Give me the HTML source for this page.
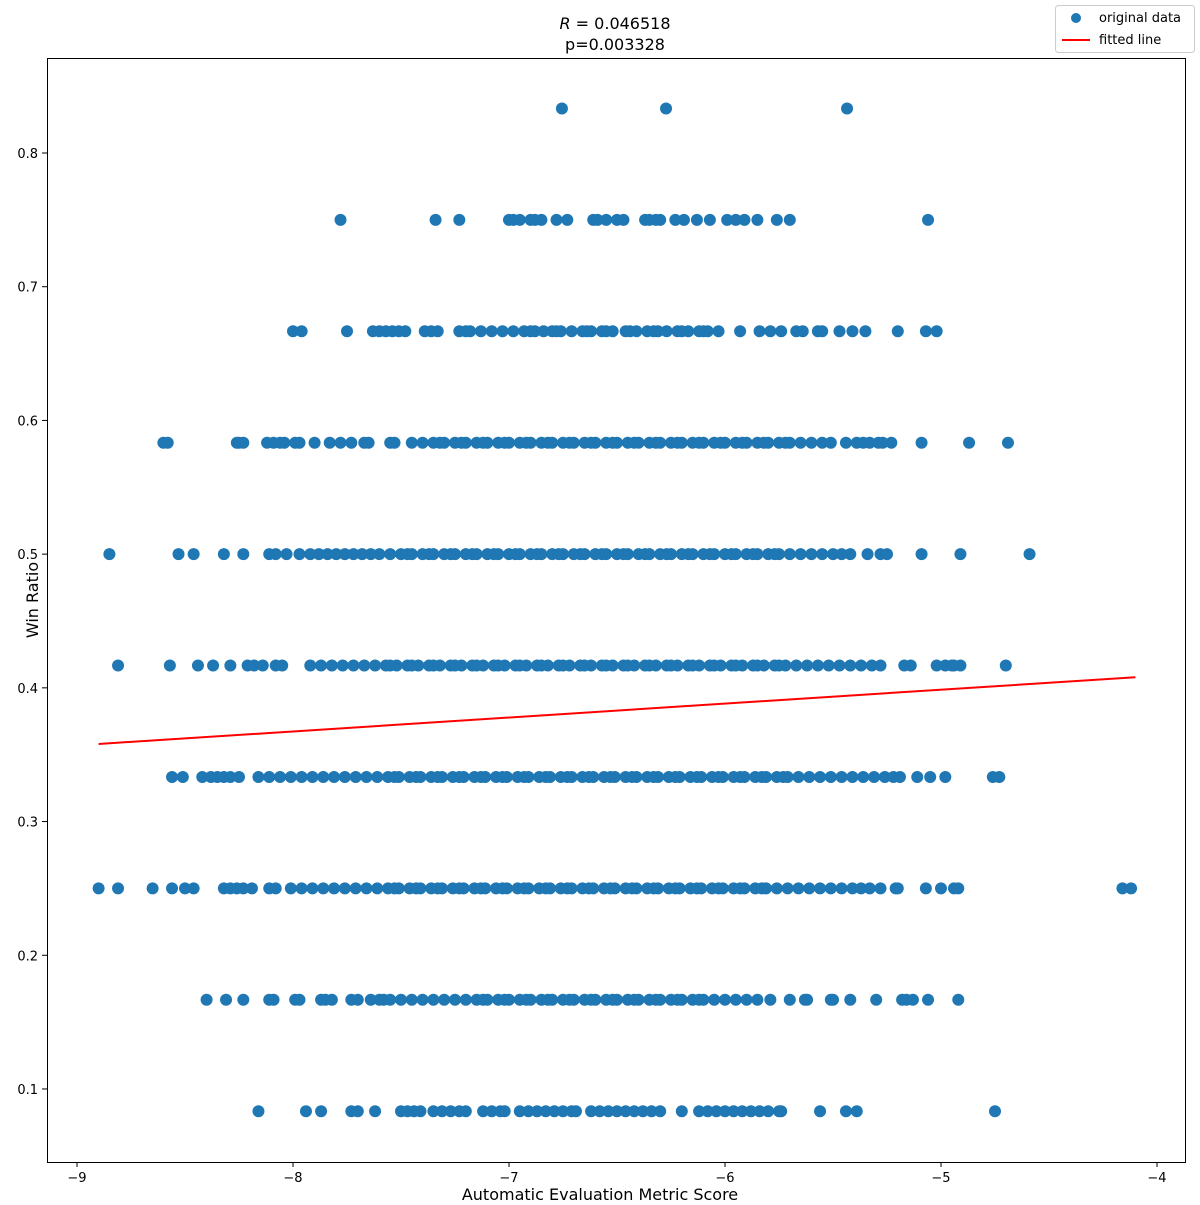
<!DOCTYPE html>
<html><head><meta charset="utf-8"><style>
body{margin:0;background:#fff}
svg{font-family:"DejaVu Sans","Liberation Sans",sans-serif}
</style></head><body>
<svg id="chart" width="1200" height="1200" xmlns="http://www.w3.org/2000/svg">
<rect width="1200" height="1200" fill="#fff"/>
<g id="points"></g>
<g id="axes"></g>
</svg>
<script>
const rowValues=[0.8333,0.75,0.6667,0.5833,0.5,0.4167,0.3333,0.25,0.1667,0.0833];
const rowX0833hi=[-6.755,-6.273,-5.435];
const rowX75=[-7.78,-7.34,-7.23,-7.0,-6.98,-6.95,-6.90,-6.88,-6.85,-6.78,-6.73,-6.61,-6.59,-6.55,-6.50,-6.47,-6.37,-6.35,-6.32,-6.30,-6.23,-6.19,-6.13,-6.07,-5.99,-5.95,-5.91,-5.85,-5.76,-5.70,-5.06];
const rowX6667=[-8.0,-7.96,-7.75,-7.63,-7.60,-7.57,-7.54,-7.51,-7.48,-7.39,-7.36,-7.33,-7.23,-7.20,-7.18,-7.13,-7.08,-7.03,-6.98,-6.93,-6.88,-6.84,-6.80,-6.76,-6.71,-6.66,-6.62,-6.57,-6.52,-6.46,-6.41,-6.36,-6.31,-6.27,-6.22,-6.17,-6.12,-6.08,-6.03,-5.93,-5.84,-5.79,-5.74,-5.67,-5.64,-5.57,-5.55,-5.47,-5.41,-5.35,-5.20,-5.07,-5.02,-6.90,-6.78,-6.64,-6.55,-6.44,-6.33,-6.20,-6.10];
const rowX5833=[-8.60,-8.58,-8.26,-8.25,-8.23,-8.12,-8.09,-8.06,-8.04,-7.99,-7.97,-7.90,-7.83,-7.78,-7.73,-7.67,-7.65,-7.55,-7.53,-7.45,-7.40,-7.35,-7.30,-7.25,-7.20,-7.15,-7.10,-7.05,-7.00,-6.95,-6.90,-6.85,-6.80,-6.75,-6.70,-6.65,-6.60,-6.55,-6.50,-6.45,-6.40,-6.35,-6.30,-6.25,-6.20,-6.15,-6.10,-6.05,-6.00,-5.95,-5.90,-5.85,-5.80,-5.75,-5.70,-5.65,-5.60,-5.55,-5.51,-5.44,-5.39,-5.36,-5.33,-5.29,-5.27,-5.23,-5.09,-4.87,-4.69,
-7.32,-7.22,-7.12,-7.02,-6.92,-6.82,-6.72,-6.62,-6.52,-6.42,-6.32,-6.22,-6.12,-6.02,-5.92,-5.82,-5.72];
const rowX5=[-8.85,-8.53,-8.46,-8.32,-8.23,-8.11,-8.08,-8.03,-7.97,-7.92,-7.88,-7.84,-7.80,-7.76,-7.72,-7.68,-7.64,-7.60,-7.55,-7.50,-7.45,-7.40,-7.35,-7.30,-7.25,-7.20,-7.15,-7.10,-7.05,-7.00,-6.95,-6.90,-6.85,-6.80,-6.75,-6.70,-6.65,-6.60,-6.55,-6.50,-6.45,-6.40,-6.35,-6.30,-6.25,-6.20,-6.15,-6.10,-6.05,-6.00,-5.95,-5.90,-5.85,-5.80,-5.75,-5.70,-5.65,-5.60,-5.55,-5.50,-5.46,-5.42,-5.34,-5.28,-5.25,-5.09,-4.91,-4.59,
-7.47,-7.37,-7.27,-7.17,-7.07,-6.97,-6.87,-6.77,-6.67,-6.57,-6.47,-6.37,-6.27,-6.17,-6.07,-5.97,-5.87,-5.77];
const rowX4167=[-8.81,-8.57,-8.44,-8.37,-8.29,-8.21,-8.18,-8.14,-8.08,-8.05,-7.92,-7.87,-7.82,-7.77,-7.72,-7.67,-7.62,-7.57,-7.52,-7.47,-7.42,-7.37,-7.32,-7.27,-7.22,-7.17,-7.12,-7.07,-7.02,-6.97,-6.92,-6.87,-6.82,-6.77,-6.72,-6.67,-6.62,-6.57,-6.52,-6.47,-6.42,-6.37,-6.32,-6.27,-6.22,-6.17,-6.12,-6.07,-6.02,-5.97,-5.92,-5.87,-5.82,-5.77,-5.72,-5.67,-5.62,-5.57,-5.52,-5.47,-5.42,-5.37,-5.32,-5.28,-5.17,-5.14,-5.02,-4.98,-4.95,-4.94,-4.91,-4.70,
-7.55,-7.45,-7.35,-7.25,-7.15,-7.05,-6.95,-6.85,-6.75,-6.65,-6.55,-6.45,-6.35,-6.25,-6.15,-6.05,-5.95,-5.85,-5.75];
const rowX3333=[-8.56,-8.51,-8.42,-8.38,-8.35,-8.32,-8.29,-8.25,-8.16,-8.11,-8.06,-8.01,-7.96,-7.91,-7.86,-7.81,-7.76,-7.71,-7.66,-7.61,-7.56,-7.51,-7.46,-7.41,-7.36,-7.31,-7.26,-7.21,-7.16,-7.11,-7.06,-7.01,-6.96,-6.91,-6.86,-6.81,-6.76,-6.71,-6.66,-6.61,-6.56,-6.51,-6.46,-6.41,-6.36,-6.31,-6.26,-6.21,-6.16,-6.11,-6.06,-6.01,-5.96,-5.91,-5.86,-5.81,-5.76,-5.71,-5.66,-5.61,-5.56,-5.51,-5.46,-5.41,-5.36,-5.31,-5.26,-5.22,-5.19,-5.11,-5.05,-4.98,-4.76,-4.73,
-7.53,-7.43,-7.33,-7.23,-7.13,-7.03,-6.93,-6.83,-6.73,-6.63,-6.53,-6.43,-6.33,-6.23,-6.13,-6.03,-5.93,-5.83,-5.73];
const rowX25=[-8.90,-8.81,-8.65,-8.56,-8.50,-8.46,-8.32,-8.29,-8.26,-8.23,-8.19,-8.11,-8.08,-8.01,-7.96,-7.91,-7.86,-7.81,-7.76,-7.71,-7.66,-7.61,-7.56,-7.51,-7.46,-7.41,-7.36,-7.31,-7.26,-7.21,-7.16,-7.11,-7.06,-7.01,-6.96,-6.91,-6.86,-6.81,-6.76,-6.71,-6.66,-6.61,-6.56,-6.51,-6.46,-6.41,-6.36,-6.31,-6.26,-6.21,-6.16,-6.11,-6.06,-6.01,-5.96,-5.91,-5.86,-5.81,-5.76,-5.71,-5.66,-5.61,-5.56,-5.51,-5.46,-5.41,-5.37,-5.33,-5.28,-5.21,-5.20,-5.07,-5.00,-4.94,-4.92,-4.16,-4.12,
-7.53,-7.43,-7.33,-7.23,-7.13,-7.03,-6.93,-6.83,-6.73,-6.63,-6.53,-6.43,-6.33,-6.23,-6.13,-6.03,-5.93,-5.83];
const rowX1667=[-8.40,-8.31,-8.23,-8.11,-8.09,-7.99,-7.97,-7.87,-7.85,-7.82,-7.73,-7.70,-7.64,-7.60,-7.58,-7.55,-7.50,-7.45,-7.40,-7.35,-7.30,-7.25,-7.20,-7.15,-7.10,-7.05,-7.00,-6.95,-6.90,-6.85,-6.80,-6.75,-6.70,-6.65,-6.60,-6.55,-6.50,-6.45,-6.40,-6.35,-6.30,-6.25,-6.20,-6.15,-6.10,-6.05,-6.00,-5.95,-5.90,-5.85,-5.79,-5.70,-5.63,-5.62,-5.51,-5.50,-5.42,-5.30,-5.18,-5.16,-5.13,-5.06,-4.92,
-7.12,-7.02,-6.92,-6.82,-6.72,-6.62,-6.52,-6.42,-6.32,-6.22,-6.12];
const rowX0833=[-8.16,-7.94,-7.87,-7.73,-7.70,-7.62,-7.50,-7.47,-7.44,-7.41,-7.35,-7.31,-7.27,-7.23,-7.20,-7.12,-7.08,-7.04,-7.02,-6.95,-6.91,-6.87,-6.83,-6.79,-6.75,-6.71,-6.69,-6.62,-6.58,-6.54,-6.50,-6.46,-6.42,-6.38,-6.34,-6.30,-6.20,-6.12,-6.08,-6.04,-6.00,-5.96,-5.92,-5.88,-5.84,-5.80,-5.75,-5.74,-5.56,-5.44,-5.39,-4.75];
const rows=[rowX0833hi,rowX75,rowX6667,rowX5833,rowX5,rowX4167,rowX3333,rowX25,rowX1667,rowX0833];
const xTicks=[-9,-8,-7,-6,-5,-4];
const xTickLabels=["−9","−8","−7","−6","−5","−4"];
const yTicks=[0.1,0.2,0.3,0.4,0.5,0.6,0.7,0.8];
const yTickLabels=["0.1","0.2","0.3","0.4","0.5","0.6","0.7","0.8"];
const fitSlope=0.0104, fitIntercept=0.4506;
const fitRange=[-8.9,-4.1];

const NS="http://www.w3.org/2000/svg";
const X=v=>77+(v+9)*216;
const Y=v=>153+(0.8-v)*1337.1;
function mk(tag,attrs,parent,text){const e=document.createElementNS(NS,tag);for(const k in attrs)e.setAttribute(k,attrs[k]);if(text!==undefined)e.textContent=text;parent.appendChild(e);return e;}
const pts=document.getElementById('points');
const ax=document.getElementById('axes');
rows.forEach((r,i)=>r.forEach(x=>{
  const c=mk('circle',{cx:X(x),cy:Y(rowValues[i]),r:6,fill:'#1f77b4'},pts);
  
  
}));
const fl=mk('line',{x1:X(fitRange[0]),y1:Y(fitIntercept+fitSlope*fitRange[0]),x2:X(fitRange[1]),y2:Y(fitIntercept+fitSlope*fitRange[1]),stroke:'#ff0000','stroke-width':2},ax);


const fr=mk('rect',{x:47.5,y:58.5,width:1138,height:1104,fill:'none',stroke:'#000','stroke-width':1},ax);


xTicks.forEach((t,i)=>{
  mk('line',{x1:X(t),x2:X(t),y1:1162,y2:1167,stroke:'#000'},ax);
  const tl=mk('text',{x:X(t),y:1182,'text-anchor':'middle','font-size':13},ax,xTickLabels[i]);
  
  
});
yTicks.forEach((t,i)=>{
  mk('line',{x1:42,x2:47,y1:Y(t),y2:Y(t),stroke:'#000'},ax);
  const tl=mk('text',{x:38,y:Y(t)+5,'text-anchor':'end','font-size':13},ax,yTickLabels[i]);
  
  
});
</script>
<svg style="position:absolute;left:0;top:0" width="1200" height="1200" xmlns="http://www.w3.org/2000/svg" font-family="DejaVu Sans, Liberation Sans, sans-serif">
<text x="615" y="29" text-anchor="middle" font-size="16"><tspan font-style="italic">R</tspan> = 0.046518</text>
<text x="615" y="50" text-anchor="middle" font-size="16">p=0.003328</text>
<text x="600" y="1200" text-anchor="middle" font-size="16">Automatic Evaluation Metric Score</text>
<text x="0" y="0" transform="translate(38,600) rotate(-90)" text-anchor="middle" font-size="16">Win Ratio</text>
<g>
<rect x="1055.5" y="5.5" width="139" height="47" rx="3" fill="#fff" stroke="#ccc"/>
<circle cx="1076" cy="18" r="5" fill="#1f77b4"/>
<text x="1099" y="22" font-size="13">original data</text>
<line x1="1062" x2="1090" y1="40" y2="40" stroke="#ff0000" stroke-width="2"/>
<text x="1099" y="44" font-size="13">fitted line</text>
</g>
</svg>
</body></html>
